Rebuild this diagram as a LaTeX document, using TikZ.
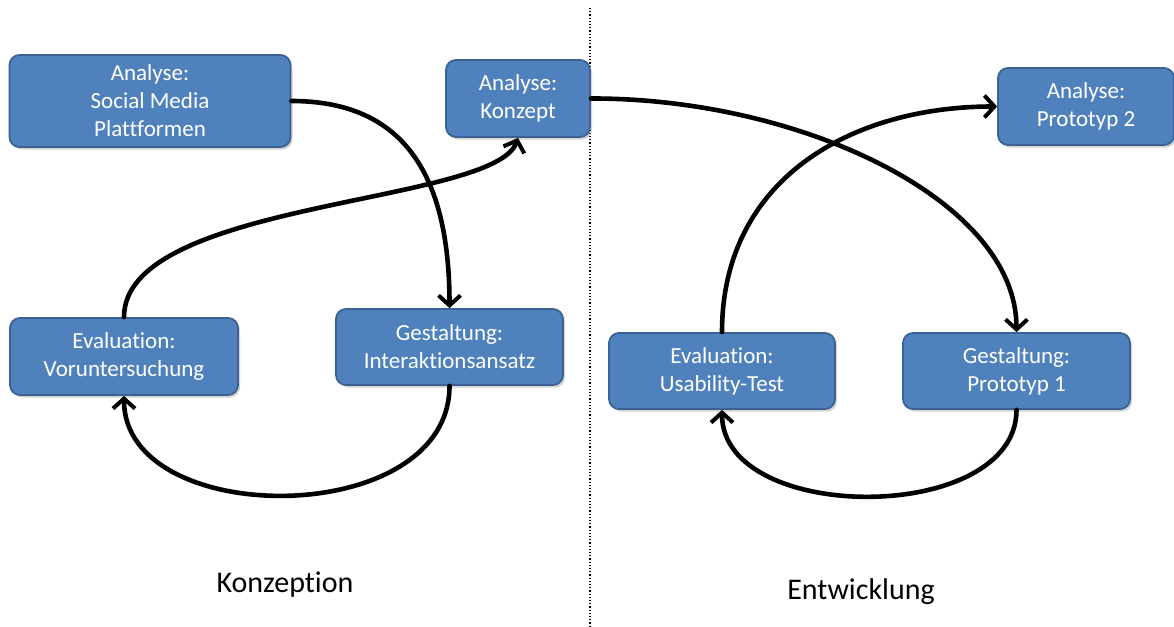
\documentclass[tikz,border=0pt]{standalone}
\usepackage{fontspec}
\setmainfont{Carlito}[RawFeature=-liga]
\usetikzlibrary{arrows.meta,shadows}
\definecolor{boxfill}{HTML}{4F81BD}
\definecolor{boxline}{HTML}{3B6292}
\begin{document}
\begin{tikzpicture}[x=1pt,y=-1pt,
  stagebox/.style={draw=boxline,line width=1.8pt,fill=boxfill,rounded corners=10pt,
    text=white,align=center,inner sep=0pt,
    font=\fontsize{23}{28}\selectfont,
    drop shadow={opacity=0.35,shadow xshift=2pt,shadow yshift=-2.5pt}},
  flow/.style={line width=4.6pt,line cap=round,-{Straight Barb[length=10pt,width=22pt,line width=4pt]}},
  phase/.style={font=\fontsize{30}{34}\selectfont}]
\useasboundingbox (0,0) rectangle (1174,626);

% phase separator
\draw[dotted,line width=1.2pt] (590,8) -- (590,626);

% Konzeption
\node[stagebox,minimum width=281pt,minimum height=92pt] (sm) at (150,101) {Analyse:\\Social Media\\Plattformen};
\node[stagebox,minimum width=144pt,minimum height=77pt] (konz) at (518,98.5) {Analyse:\\Konzept};
\node[stagebox,minimum width=227pt,minimum height=76pt] (inter) at (449.5,347) {Gestaltung:\\Interaktionsansatz};
\node[stagebox,minimum width=228pt,minimum height=77pt] (vor) at (124,356.5) {Evaluation:\\Voruntersuchung};

% Entwicklung
\node[stagebox,minimum width=226pt,minimum height=76pt] (use) at (722,371) {Evaluation:\\Usability-Test};
\node[stagebox,minimum width=227pt,minimum height=76pt] (p1) at (1016.5,371) {Gestaltung:\\Prototyp 1};
\node[stagebox,minimum width=176pt,minimum height=77pt] (p2) at (1086,106.5) {Analyse:\\Prototyp 2};

% phase labels
\node[phase] (lk) at (285,585) {Konzeption};
\node[phase] (le) at (861,592) {Entwicklung};

% flow of the Konzeption phase
\draw[flow] (sm.east) .. controls (400,101) and (449.5,170) .. (inter.north);
\draw[flow] (inter.south) .. controls (449.5,530) and (124,530) .. (vor.south);
\draw[flow] (vor.north) .. controls (124,200) and (495,205) .. (konz.south);

% flow of the Entwicklung phase
\draw[flow] (konz.east) .. controls (800,98) and (1016.5,200) .. (p1.north);
\draw[flow] (p1.south) .. controls (1016.5,525) and (722,525) .. (use.south);
\draw[flow] (use.north) .. controls (722,180) and (850,106.5) .. (p2.west);
\end{tikzpicture}
\end{document}
